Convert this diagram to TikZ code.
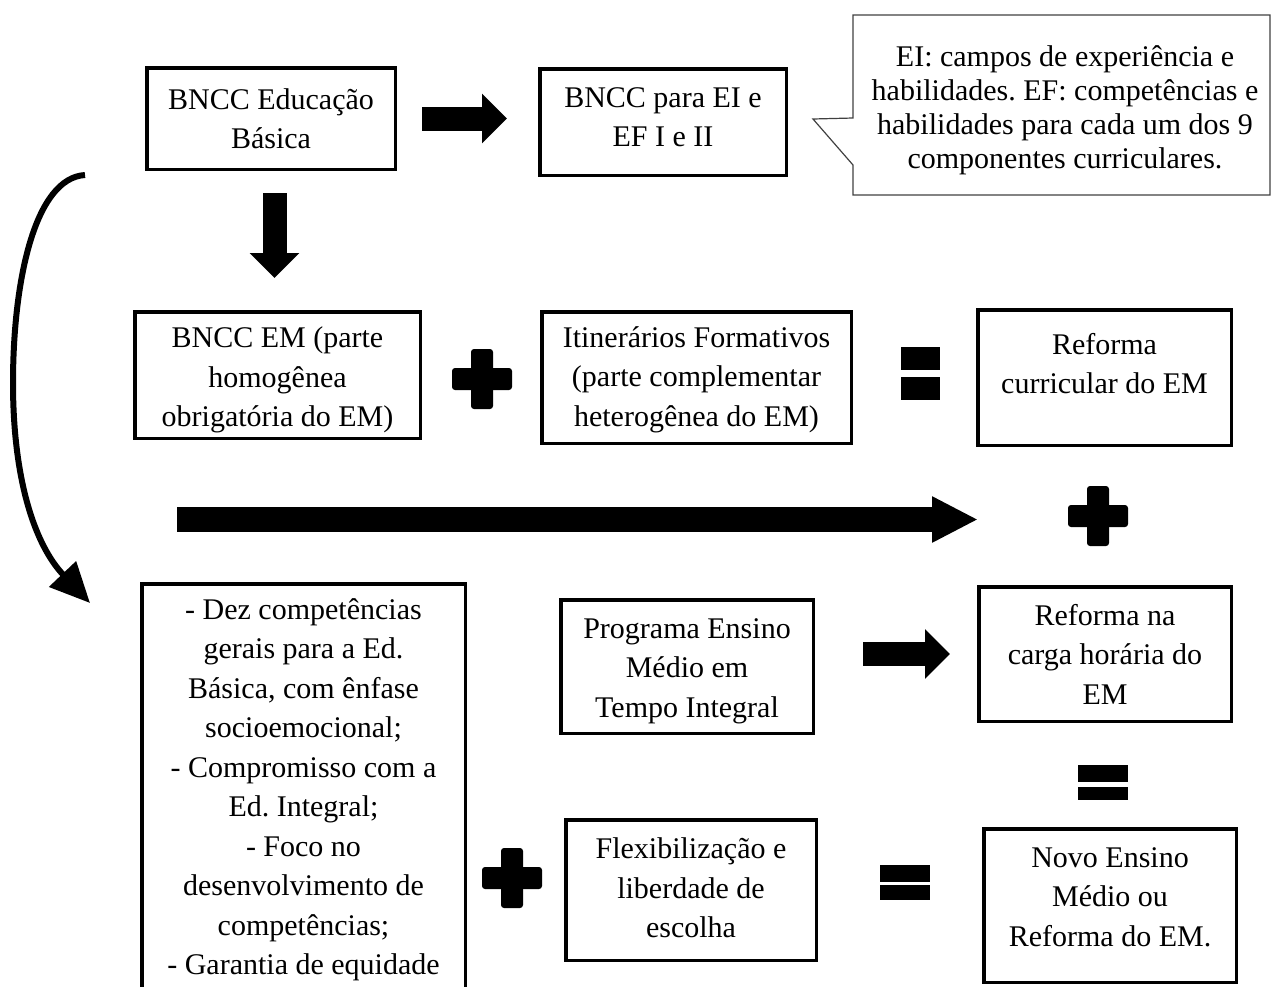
\documentclass[tikz,border=0pt]{standalone}
\usepackage{fontspec}
\setmainfont{Liberation Serif}
\usetikzlibrary{arrows.meta}
\frenchspacing

\begin{document}
\begin{tikzpicture}[x=1pt, y=-1pt,
    box/.style={draw, line width=3.5pt, align=center, inner sep=1pt, font=\fontsize{30}{39.5}\selectfont},
    fatarrow/.style={line width=24pt, -{Triangle[length=25pt, width=48pt]}},
    pics/plussign/.style={code={
        \fill[rounded corners=3pt] (-11,-30) rectangle (11,30);
        \fill[rounded corners=3pt] (-30,-11) rectangle (30,11);}}]
    \clip (0,0) rectangle (1273,986);

    \node[box, minimum width=248.5pt, minimum height=101.5pt] (bncc) at (271,118.5) {BNCC Educação\\Básica};
    \node[box, minimum width=246.5pt, minimum height=106.5pt, text depth=10pt] (eief) at (663,122) {BNCC para EI e\\EF I e II};
    \node[align=center, font=\fontsize{30}{34}\selectfont] (nota) at (1065,110) {EI: campos de experiência e\\habilidades. EF: competências e\\habilidades para cada um dos 9\\componentes curriculares.};
    \draw[line width=1.2pt, black!75] (853,15) -- (1270,15) -- (1270,195) -- (853,195) -- (853,165) -- (813,119) -- (853,118) -- cycle;

    \node[box, minimum width=285.5pt, minimum height=126.5pt, text height=110pt] (bnccem) at (277.5,375) {BNCC EM (parte\\homogênea\\obrigatória do EM)};
    \node[box, minimum width=309.5pt, minimum height=131.5pt, text height=104pt] (itin) at (696.5,377.5) {Itinerários Formativos\\(parte complementar\\heterogênea do EM)};
    \node[box, minimum width=253.5pt, minimum height=135.5pt, text depth=28pt] (refcurr) at (1104.5,377.5) {Reforma\\curricular do EM};

    \node[box, minimum width=323.5pt, minimum height=406.5pt, text height=382pt] (compet) at (303.5,787) {- Dez competências\\gerais para a Ed.\\Básica, com ênfase\\socioemocional;\\- Compromisso com a\\Ed. Integral;\\- Foco no\\desenvolvimento de\\competências;\\- Garantia de equidade};
    \node[box, minimum width=252.5pt, minimum height=133.5pt, text height=108pt] (integral) at (687,666.5) {Programa Ensino\\Médio em\\Tempo Integral};
    \node[box, minimum width=252.5pt, minimum height=134.5pt] (carga) at (1105,654) {Reforma na\\carga horária do\\EM};
    \node[box, minimum width=250.5pt, minimum height=140.5pt, text depth=4pt] (flex) at (691,890) {Flexibilização e\\liberdade de\\escolha};
    \node[box, minimum width=252.5pt, minimum height=153.5pt, text depth=17pt] (novo) at (1110,905.5) {Novo Ensino\\Médio ou\\Reforma do EM.};

    \draw[fatarrow, shorten <=25pt, shorten >=31pt] (bncc.east) -- (bncc.east -| eief.west);
    \draw[fatarrow, shorten <=22pt, shorten >=32pt] ([xshift=3.5pt]bncc.south) -- ([xshift=3.5pt]bncc.south |- bnccem.north);
    \draw[fatarrow, shorten <=48pt, shorten >=27pt] (carga.west -| integral.east) -- (carga.west);

    \coordinate (linhaA) at (177,519.5);
    \coordinate (linhaB) at (978,519.5);
    \draw[line width=25pt, -{Triangle[length=46pt, width=43pt]}] (linhaA) -- (linhaB);

    \coordinate (curvaA) at (85,175);
    \coordinate (curvaB) at (90,603);
    \draw[line width=6pt, -{Triangle[length=40pt, width=36pt]}] (curvaA) .. controls (35,178) and (13,280) .. (13,383) .. controls (13,480) and (35,545) .. (curvaB);

    \pic at (482,379) {plussign};
    \pic at (1098,516) {plussign};
    \pic at (512,878) {plussign};

    \fill (901,347) rectangle (940,370);
    \fill (901,377) rectangle (940,400);
    \fill (1078,765) rectangle (1128,782);
    \fill (1078,787) rectangle (1128,800);
    \fill (880,865) rectangle (930,882);
    \fill (880,885) rectangle (930,900);
\end{tikzpicture}
\end{document}
